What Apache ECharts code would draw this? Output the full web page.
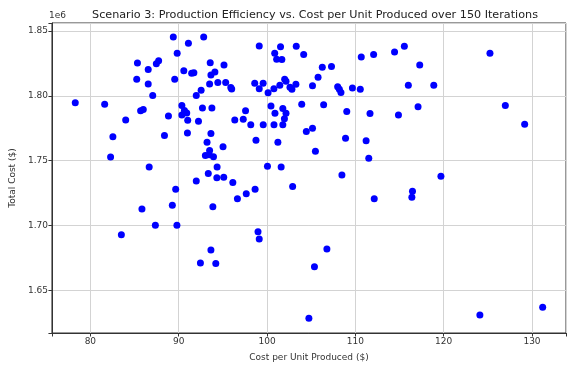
<!DOCTYPE html>
<html>
<head>
<meta charset="utf-8">
<script src="https://cdn.jsdelivr.net/npm/echarts@6/dist/echarts.min.js"></script>
<style>
  html, body { margin: 0; padding: 0; background: #fff; }
  #chart { width: 569px; height: 367px; overflow: hidden; }
</style>
</head>
<body>
<div id="chart"></div>
<script>
// cost per unit ($)
const costPerUnit = [
  78.29, 81.62, 82.55, 84.0, 85.25, 85.33, 85.69, 85.99, 86.55, 86.55,
  87.06, 87.47, 87.73, 88.39, 88.84, 89.39, 89.55, 89.83, 90.36, 90.58,
  90.65, 90.91, 90.36, 91.02, 90.99, 91.1, 91.47, 91.72, 91.99, 92.24,
  92.54, 92.69, 92.83, 93.21, 93.57, 93.5, 93.65, 94.1, 93.76, 93.65,
  94.43, 99.12, 101.53, 100.87, 101.09, 101.68, 103.31, 104.15, 95.13, 95.32,
  95.9, 96.0, 98.61, 99.12, 99.56, 100.12, 100.78, 101.45, 102.0, 102.15,
  102.6, 102.82, 103.27, 105.15, 105.78, 106.26, 107.3, 108.0, 108.19, 108.37,
  109.67, 110.56, 110.67, 112.07, 96.35, 97.31, 97.57, 98.16, 99.57, 100.45,
  100.9, 101.79, 102.15, 101.97, 101.79, 100.79, 103.93, 106.41, 109.03, 111.66,
  95.02, 98.75, 101.23, 104.45, 105.15, 108.89, 111.22, 114.44, 115.55, 117.29,
  116.0, 118.88, 125.24, 114.88, 117.1, 126.98, 129.17, 82.29, 86.66, 89.66,
  85.84, 89.28, 87.36, 89.8, 83.51, 91.99, 93.35, 94.32, 94.35, 93.87,
  93.65, 92.46, 94.2, 93.5, 93.02, 93.45, 93.94, 105.48, 111.52, 95.1,
  96.13, 96.65, 97.65, 98.65, 100.05, 101.6, 102.9, 108.48, 112.14, 98.98,
  99.12, 106.78, 105.37, 119.69, 116.47, 116.4, 104.74, 124.1, 131.21
]
// total cost, in millions of $
const totalCostM = [
  1.7946, 1.7936, 1.7684, 1.7814, 1.8128, 1.8253, 1.7885, 1.7895, 1.8204, 1.8092,
  1.8002, 1.8247, 1.8270, 1.7694, 1.7845, 1.8454, 1.8128, 1.8329, 1.7926, 1.8194,
  1.7887, 1.7867, 1.7852, 1.7811, 1.7714, 1.8406, 1.8174, 1.8178, 1.8002, 1.7803,
  1.8044, 1.7906, 1.8454, 1.7642, 1.8255, 1.8092, 1.8161, 1.8184, 1.7906, 1.7709,
  1.8102, 1.8385, 1.8378, 1.8329, 1.8283, 1.8281, 1.8383, 1.8319, 1.8237, 1.8102,
  1.8065, 1.8052, 1.8097, 1.8054, 1.8097, 1.8023, 1.8054, 1.8082, 1.8128, 1.8113,
  1.8067, 1.8051, 1.8090, 1.8077, 1.8143, 1.8220, 1.8227, 1.8071, 1.8051, 1.8025,
  1.8061, 1.8051, 1.8299, 1.8319, 1.7814, 1.7819, 1.7885, 1.7776, 1.7776, 1.7921,
  1.7865, 1.7903, 1.7865, 1.7824, 1.7776, 1.7776, 1.7936, 1.7931, 1.7880, 1.7864,
  1.7607, 1.7658, 1.7642, 1.7724, 1.7750, 1.7673, 1.7653, 1.8339, 1.8383, 1.8237,
  1.8082, 1.8082, 1.8329, 1.7852, 1.7916, 1.7926, 1.7780, 1.7528, 1.7451, 1.7280,
  1.7127, 1.7155, 1.7002, 1.7002, 1.6928, 1.7342, 1.7400, 1.7367, 1.7451, 1.7145,
  1.6811, 1.6711, 1.6706, 1.7579, 1.7540, 1.7545, 1.7530, 1.7573, 1.7518, 1.7372,
  1.7331, 1.7206, 1.7244, 1.7280, 1.7456, 1.7451, 1.7301, 1.7390, 1.7206, 1.6951,
  1.6895, 1.6818, 1.6681, 1.7380, 1.7263, 1.7217, 1.6283, 1.6309, 1.6368
]
const xTicks = [80, 90, 100, 110, 120, 130]
const yTicks = [1.65, 1.70, 1.75, 1.80, 1.85]

const points = costPerUnit.map((c, i) => [c, totalCostM[i] * 1e6])

const font = 'DejaVu Sans'
const isTick = (v, list, eps) => list.some(t => Math.abs(t - v) < eps)

const myChart = echarts.init(document.getElementById('chart'), null, {renderer: 'canvas'})
myChart.setOption({
  animation: false,
  textStyle: {fontFamily: font},
  title: {
    text: 'Scenario 3: Production Efficiency vs. Cost per Unit Produced over 150 Iterations',
    left: 310, top: 5, textAlign: 'center',
    textStyle: {fontFamily: font, fontSize: 11.2, fontWeight: 'normal', color: '#222'}
  },
  graphic: [{
    type: 'text', left: 49, top: 11,
    style: {text: '1e6', font: '9px "DejaVu Sans"', fill: '#333'}
  }],
  // the right spine of the original falls just outside the picture
  grid: {left: 48, width: 525, top: 23, bottom: 33, show: true, borderColor: '#333', borderWidth: 1},
  xAxis: {
    type: 'value',
    min: 75.65, max: 133.85,
    name: 'Cost per Unit Produced ($)',
    nameLocation: 'middle', nameGap: 20,
    nameTextStyle: {fontFamily: font, fontSize: 9, color: '#333'},
    axisLine: {show: true, onZero: false, lineStyle: {color: '#333'}},
    axisTick: {show: true, length: 3.5, lineStyle: {color: '#333'}},
    axisLabel: {
      fontFamily: font, fontSize: 9, color: '#333', margin: 4,
      formatter: v => isTick(v, xTicks, 1e-6) ? String(v) : ''
    },
    splitLine: {show: true, lineStyle: {color: '#d3d3d3'}}
  },
  yAxis: {
    type: 'value',
    min: 1.617e6, max: 1.8562e6,
    name: 'Total Cost ($)',
    nameLocation: 'middle', nameGap: 34,
    nameTextStyle: {fontFamily: font, fontSize: 9, color: '#333'},
    axisLine: {show: true, onZero: false, lineStyle: {color: '#333'}},
    axisTick: {show: true, length: 3.5, lineStyle: {color: '#333'}},
    axisLabel: {
      fontFamily: font, fontSize: 9, color: '#333', margin: 4,
      formatter: v => isTick(v / 1e6, yTicks, 1e-6) ? (v / 1e6).toFixed(2) : ''
    },
    splitLine: {show: true, lineStyle: {color: '#d3d3d3'}}
  },
  series: [{
    type: 'scatter',
    data: points,
    symbolSize: 7,
    itemStyle: {color: '#0000ff', opacity: 1}
  }]
})
</script>
</body>
</html>
